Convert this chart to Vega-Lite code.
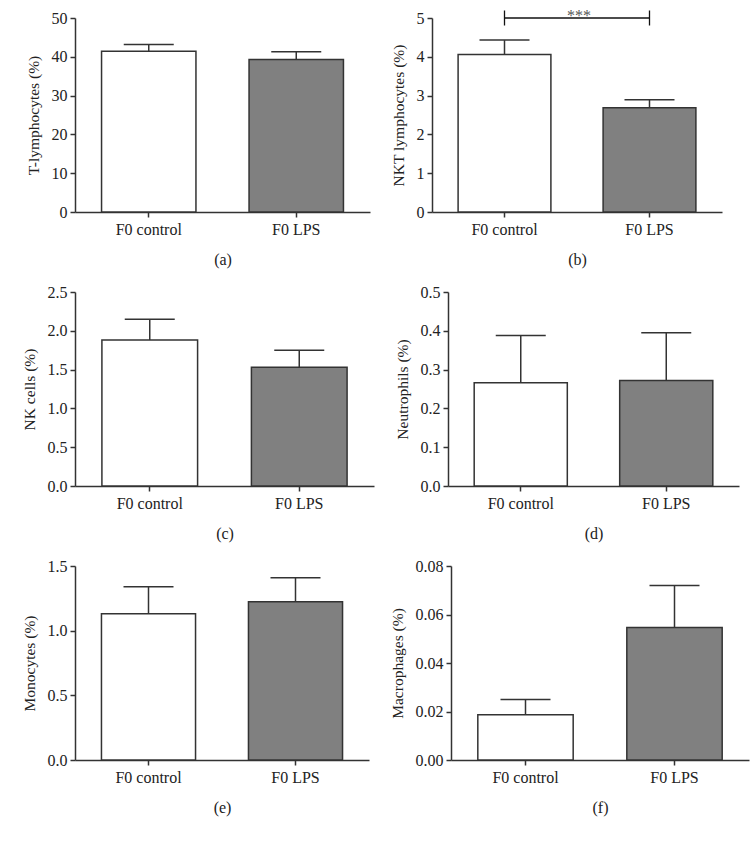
{
  "$schema": "https://vega.github.io/schema/vega-lite/v6.json",
  "background": "white",
  "padding": {"left": 22, "top": 8, "right": 5, "bottom": 5},
  "datasets": {
    "bars": [
      {"panel": "a", "group": "F0 control", "mean": 41.4, "upper": 43.2},
      {"panel": "a", "group": "F0 LPS", "mean": 39.3, "upper": 41.3},
      {"panel": "b", "group": "F0 control", "mean": 4.06, "upper": 4.43},
      {"panel": "b", "group": "F0 LPS", "mean": 2.69, "upper": 2.89},
      {"panel": "c", "group": "F0 control", "mean": 1.88, "upper": 2.15},
      {"panel": "c", "group": "F0 LPS", "mean": 1.53, "upper": 1.75},
      {"panel": "d", "group": "F0 control", "mean": 0.266, "upper": 0.388},
      {"panel": "d", "group": "F0 LPS", "mean": 0.272, "upper": 0.395},
      {"panel": "e", "group": "F0 control", "mean": 1.13, "upper": 1.34},
      {"panel": "e", "group": "F0 LPS", "mean": 1.223, "upper": 1.41},
      {"panel": "f", "group": "F0 control", "mean": 0.0187, "upper": 0.025},
      {"panel": "f", "group": "F0 LPS", "mean": 0.0546, "upper": 0.072}
    ],
    "sig": [
      {"group": "F0 control", "to": "F0 LPS", "level": 5.0, "label": "***"}
    ],
    "sigEnds": [
      {"group": "F0 control", "level": 5.0},
      {"group": "F0 LPS", "level": 5.0}
    ]
  },
  "vconcat": [
    {
      "hconcat": [
        {
          "width": 295, "height": 194,
          "data": {"name": "bars"},
          "transform": [{"filter": "datum.panel == 'a'"}],
          "encoding": {"x": {"field": "group", "type": "nominal", "title": "(a)", "scale": {"domain": ["F0 control", "F0 LPS"], "paddingInner": 0.36, "paddingOuter": 0.18}, "axis": {"labelAngle": 0, "labelFont": "Liberation Serif", "labelFontSize": 16, "labelColor": "#222", "titleFont": "Liberation Serif", "titleFontSize": 16, "titleFontWeight": "normal", "titleColor": "#222", "titlePadding": 14, "labelPadding": 4, "domainColor": "#333", "domainWidth": 1.5, "tickColor": "#333", "tickWidth": 1.5, "tickSize": 5, "grid": false}}},
          "layer": [
            {"mark": {"type": "bar", "stroke": "#333", "strokeWidth": 1.5},
             "encoding": {
               "y": {"field": "mean", "type": "quantitative", "title": "T-lymphocytes (%)", "scale": {"domain": [0, 50], "nice": false}, "axis": {"values": [0, 10, 20, 30, 40, 50], "labelFont": "Liberation Serif", "labelFontSize": 16, "labelColor": "#222", "titleFont": "Liberation Serif", "titleFontSize": 15.5, "titleFontWeight": "normal", "titleColor": "#222", "titlePadding": 10, "labelPadding": 3, "domainColor": "#333", "domainWidth": 1.5, "tickColor": "#333", "tickWidth": 1.5, "tickSize": 5, "grid": false}},
               "fill": {"field": "group", "type": "nominal", "scale": {"domain": ["F0 control", "F0 LPS"], "range": ["#ffffff", "#808080"]}, "legend": null}}},
            {"mark": {"type": "rule", "color": "#333", "strokeWidth": 1.5},
             "encoding": {"y": {"field": "mean", "type": "quantitative", "title": "T-lymphocytes (%)", "axis": {"values": [0, 10, 20, 30, 40, 50], "labelFont": "Liberation Serif", "labelFontSize": 16, "labelColor": "#222", "titleFont": "Liberation Serif", "titleFontSize": 15.5, "titleFontWeight": "normal", "titleColor": "#222", "titlePadding": 10, "labelPadding": 3, "domainColor": "#333", "domainWidth": 1.5, "tickColor": "#333", "tickWidth": 1.5, "tickSize": 5, "grid": false}}, "y2": {"field": "upper"}}},
            {"mark": {"type": "tick", "size": 50, "thickness": 1.5, "color": "#333", "opacity": 1},
             "encoding": {"y": {"field": "upper", "type": "quantitative", "title": "T-lymphocytes (%)", "axis": {"values": [0, 10, 20, 30, 40, 50], "labelFont": "Liberation Serif", "labelFontSize": 16, "labelColor": "#222", "titleFont": "Liberation Serif", "titleFontSize": 15.5, "titleFontWeight": "normal", "titleColor": "#222", "titlePadding": 10, "labelPadding": 3, "domainColor": "#333", "domainWidth": 1.5, "tickColor": "#333", "tickWidth": 1.5, "tickSize": 5, "grid": false}}}}
          ]
        },
        {
          "width": 290, "height": 194,
          "encoding": {"x": {"field": "group", "type": "nominal", "title": "(b)", "scale": {"domain": ["F0 control", "F0 LPS"], "paddingInner": 0.36, "paddingOuter": 0.18}, "axis": {"labelAngle": 0, "labelFont": "Liberation Serif", "labelFontSize": 16, "labelColor": "#222", "titleFont": "Liberation Serif", "titleFontSize": 16, "titleFontWeight": "normal", "titleColor": "#222", "titlePadding": 14, "labelPadding": 4, "domainColor": "#333", "domainWidth": 1.5, "tickColor": "#333", "tickWidth": 1.5, "tickSize": 5, "grid": false}}},
          "layer": [
            {"data": {"name": "bars"}, "transform": [{"filter": "datum.panel == 'b'"}],
             "mark": {"type": "bar", "stroke": "#333", "strokeWidth": 1.5},
             "encoding": {
               "y": {"field": "mean", "type": "quantitative", "title": "NKT lymphocytes (%)", "scale": {"domain": [0, 5], "nice": false}, "axis": {"values": [0, 1, 2, 3, 4, 5], "labelFont": "Liberation Serif", "labelFontSize": 16, "labelColor": "#222", "titleFont": "Liberation Serif", "titleFontSize": 15.5, "titleFontWeight": "normal", "titleColor": "#222", "titlePadding": 10, "labelPadding": 3, "domainColor": "#333", "domainWidth": 1.5, "tickColor": "#333", "tickWidth": 1.5, "tickSize": 5, "grid": false}},
               "fill": {"field": "group", "type": "nominal", "scale": {"domain": ["F0 control", "F0 LPS"], "range": ["#ffffff", "#808080"]}, "legend": null}}},
            {"data": {"name": "bars"}, "transform": [{"filter": "datum.panel == 'b'"}],
             "mark": {"type": "rule", "color": "#333", "strokeWidth": 1.5},
             "encoding": {"y": {"field": "mean", "type": "quantitative", "title": "NKT lymphocytes (%)", "axis": {"values": [0, 1, 2, 3, 4, 5], "labelFont": "Liberation Serif", "labelFontSize": 16, "labelColor": "#222", "titleFont": "Liberation Serif", "titleFontSize": 15.5, "titleFontWeight": "normal", "titleColor": "#222", "titlePadding": 10, "labelPadding": 3, "domainColor": "#333", "domainWidth": 1.5, "tickColor": "#333", "tickWidth": 1.5, "tickSize": 5, "grid": false}}, "y2": {"field": "upper"}}},
            {"data": {"name": "bars"}, "transform": [{"filter": "datum.panel == 'b'"}],
             "mark": {"type": "tick", "size": 50, "thickness": 1.5, "color": "#333", "opacity": 1},
             "encoding": {"y": {"field": "upper", "type": "quantitative", "title": "NKT lymphocytes (%)", "axis": {"values": [0, 1, 2, 3, 4, 5], "labelFont": "Liberation Serif", "labelFontSize": 16, "labelColor": "#222", "titleFont": "Liberation Serif", "titleFontSize": 15.5, "titleFontWeight": "normal", "titleColor": "#222", "titlePadding": 10, "labelPadding": 3, "domainColor": "#333", "domainWidth": 1.5, "tickColor": "#333", "tickWidth": 1.5, "tickSize": 5, "grid": false}}}},
            {"data": {"name": "sig"},
             "mark": {"type": "rule", "color": "#111", "strokeWidth": 1.3},
             "encoding": {"x2": {"field": "to"}, "y": {"field": "level", "type": "quantitative", "title": "NKT lymphocytes (%)", "axis": {"values": [0, 1, 2, 3, 4, 5], "labelFont": "Liberation Serif", "labelFontSize": 16, "labelColor": "#222", "titleFont": "Liberation Serif", "titleFontSize": 15.5, "titleFontWeight": "normal", "titleColor": "#222", "titlePadding": 10, "labelPadding": 3, "domainColor": "#333", "domainWidth": 1.5, "tickColor": "#333", "tickWidth": 1.5, "tickSize": 5, "grid": false}}}},
            {"data": {"name": "sigEnds"},
             "mark": {"type": "tick", "orient": "vertical", "size": 15, "thickness": 1.3, "color": "#111", "opacity": 1},
             "encoding": {"y": {"field": "level", "type": "quantitative", "title": "NKT lymphocytes (%)", "axis": {"values": [0, 1, 2, 3, 4, 5], "labelFont": "Liberation Serif", "labelFontSize": 16, "labelColor": "#222", "titleFont": "Liberation Serif", "titleFontSize": 15.5, "titleFontWeight": "normal", "titleColor": "#222", "titlePadding": 10, "labelPadding": 3, "domainColor": "#333", "domainWidth": 1.5, "tickColor": "#333", "tickWidth": 1.5, "tickSize": 5, "grid": false}}}},
            {"data": {"name": "sig"},
             "mark": {"type": "text", "fontSize": 16, "color": "#555", "baseline": "alphabetic", "dy": 3, "dx": -24, "font": "Liberation Serif"},
             "encoding": {"x": {"field": "to", "type": "nominal", "bandPosition": 0}, "y": {"field": "level", "type": "quantitative", "title": "NKT lymphocytes (%)", "axis": {"values": [0, 1, 2, 3, 4, 5], "labelFont": "Liberation Serif", "labelFontSize": 16, "labelColor": "#222", "titleFont": "Liberation Serif", "titleFontSize": 15.5, "titleFontWeight": "normal", "titleColor": "#222", "titlePadding": 10, "labelPadding": 3, "domainColor": "#333", "domainWidth": 1.5, "tickColor": "#333", "tickWidth": 1.5, "tickSize": 5, "grid": false}}, "text": {"field": "label"}}}
          ]
        }
      ],
      "spacing": 21
    },
    {
      "hconcat": [
        {
          "width": 299, "height": 194,
          "data": {"name": "bars"},
          "transform": [{"filter": "datum.panel == 'c'"}],
          "encoding": {"x": {"field": "group", "type": "nominal", "title": "(c)", "scale": {"domain": ["F0 control", "F0 LPS"], "paddingInner": 0.36, "paddingOuter": 0.18}, "axis": {"labelAngle": 0, "labelFont": "Liberation Serif", "labelFontSize": 16, "labelColor": "#222", "titleFont": "Liberation Serif", "titleFontSize": 16, "titleFontWeight": "normal", "titleColor": "#222", "titlePadding": 14, "labelPadding": 4, "domainColor": "#333", "domainWidth": 1.5, "tickColor": "#333", "tickWidth": 1.5, "tickSize": 5, "grid": false}}},
          "layer": [
            {"mark": {"type": "bar", "stroke": "#333", "strokeWidth": 1.5},
             "encoding": {
               "y": {"field": "mean", "type": "quantitative", "title": "NK cells (%)", "scale": {"domain": [0, 2.5], "nice": false}, "axis": {"values": [0, 0.5, 1, 1.5, 2, 2.5], "format": ".1f", "labelFont": "Liberation Serif", "labelFontSize": 16, "labelColor": "#222", "titleFont": "Liberation Serif", "titleFontSize": 15.5, "titleFontWeight": "normal", "titleColor": "#222", "titlePadding": 10, "labelPadding": 3, "domainColor": "#333", "domainWidth": 1.5, "tickColor": "#333", "tickWidth": 1.5, "tickSize": 5, "grid": false}},
               "fill": {"field": "group", "type": "nominal", "scale": {"domain": ["F0 control", "F0 LPS"], "range": ["#ffffff", "#808080"]}, "legend": null}}},
            {"mark": {"type": "rule", "color": "#333", "strokeWidth": 1.5},
             "encoding": {"y": {"field": "mean", "type": "quantitative", "title": "NK cells (%)", "axis": {"values": [0, 0.5, 1, 1.5, 2, 2.5], "format": ".1f", "labelFont": "Liberation Serif", "labelFontSize": 16, "labelColor": "#222", "titleFont": "Liberation Serif", "titleFontSize": 15.5, "titleFontWeight": "normal", "titleColor": "#222", "titlePadding": 10, "labelPadding": 3, "domainColor": "#333", "domainWidth": 1.5, "tickColor": "#333", "tickWidth": 1.5, "tickSize": 5, "grid": false}}, "y2": {"field": "upper"}}},
            {"mark": {"type": "tick", "size": 50, "thickness": 1.5, "color": "#333", "opacity": 1},
             "encoding": {"y": {"field": "upper", "type": "quantitative", "title": "NK cells (%)", "axis": {"values": [0, 0.5, 1, 1.5, 2, 2.5], "format": ".1f", "labelFont": "Liberation Serif", "labelFontSize": 16, "labelColor": "#222", "titleFont": "Liberation Serif", "titleFontSize": 15.5, "titleFontWeight": "normal", "titleColor": "#222", "titlePadding": 10, "labelPadding": 3, "domainColor": "#333", "domainWidth": 1.5, "tickColor": "#333", "tickWidth": 1.5, "tickSize": 5, "grid": false}}}}
          ]
        },
        {
          "width": 291, "height": 194,
          "data": {"name": "bars"},
          "transform": [{"filter": "datum.panel == 'd'"}],
          "encoding": {"x": {"field": "group", "type": "nominal", "title": "(d)", "scale": {"domain": ["F0 control", "F0 LPS"], "paddingInner": 0.36, "paddingOuter": 0.18}, "axis": {"labelAngle": 0, "labelFont": "Liberation Serif", "labelFontSize": 16, "labelColor": "#222", "titleFont": "Liberation Serif", "titleFontSize": 16, "titleFontWeight": "normal", "titleColor": "#222", "titlePadding": 14, "labelPadding": 4, "domainColor": "#333", "domainWidth": 1.5, "tickColor": "#333", "tickWidth": 1.5, "tickSize": 5, "grid": false}}},
          "layer": [
            {"mark": {"type": "bar", "stroke": "#333", "strokeWidth": 1.5},
             "encoding": {
               "y": {"field": "mean", "type": "quantitative", "title": "Neutrophils (%)", "scale": {"domain": [0, 0.5], "nice": false}, "axis": {"values": [0, 0.1, 0.2, 0.3, 0.4, 0.5], "format": ".1f", "labelFont": "Liberation Serif", "labelFontSize": 16, "labelColor": "#222", "titleFont": "Liberation Serif", "titleFontSize": 15.5, "titleFontWeight": "normal", "titleColor": "#222", "titlePadding": 10, "labelPadding": 3, "domainColor": "#333", "domainWidth": 1.5, "tickColor": "#333", "tickWidth": 1.5, "tickSize": 5, "grid": false}},
               "fill": {"field": "group", "type": "nominal", "scale": {"domain": ["F0 control", "F0 LPS"], "range": ["#ffffff", "#808080"]}, "legend": null}}},
            {"mark": {"type": "rule", "color": "#333", "strokeWidth": 1.5},
             "encoding": {"y": {"field": "mean", "type": "quantitative", "title": "Neutrophils (%)", "axis": {"values": [0, 0.1, 0.2, 0.3, 0.4, 0.5], "format": ".1f", "labelFont": "Liberation Serif", "labelFontSize": 16, "labelColor": "#222", "titleFont": "Liberation Serif", "titleFontSize": 15.5, "titleFontWeight": "normal", "titleColor": "#222", "titlePadding": 10, "labelPadding": 3, "domainColor": "#333", "domainWidth": 1.5, "tickColor": "#333", "tickWidth": 1.5, "tickSize": 5, "grid": false}}, "y2": {"field": "upper"}}},
            {"mark": {"type": "tick", "size": 50, "thickness": 1.5, "color": "#333", "opacity": 1},
             "encoding": {"y": {"field": "upper", "type": "quantitative", "title": "Neutrophils (%)", "axis": {"values": [0, 0.1, 0.2, 0.3, 0.4, 0.5], "format": ".1f", "labelFont": "Liberation Serif", "labelFontSize": 16, "labelColor": "#222", "titleFont": "Liberation Serif", "titleFontSize": 15.5, "titleFontWeight": "normal", "titleColor": "#222", "titlePadding": 10, "labelPadding": 3, "domainColor": "#333", "domainWidth": 1.5, "tickColor": "#333", "tickWidth": 1.5, "tickSize": 5, "grid": false}}}}
          ]
        }
      ],
      "spacing": 21
    },
    {
      "hconcat": [
        {
          "width": 294, "height": 194,
          "data": {"name": "bars"},
          "transform": [{"filter": "datum.panel == 'e'"}],
          "encoding": {"x": {"field": "group", "type": "nominal", "title": "(e)", "scale": {"domain": ["F0 control", "F0 LPS"], "paddingInner": 0.36, "paddingOuter": 0.18}, "axis": {"labelAngle": 0, "labelFont": "Liberation Serif", "labelFontSize": 16, "labelColor": "#222", "titleFont": "Liberation Serif", "titleFontSize": 16, "titleFontWeight": "normal", "titleColor": "#222", "titlePadding": 14, "labelPadding": 4, "domainColor": "#333", "domainWidth": 1.5, "tickColor": "#333", "tickWidth": 1.5, "tickSize": 5, "grid": false}}},
          "layer": [
            {"mark": {"type": "bar", "stroke": "#333", "strokeWidth": 1.5},
             "encoding": {
               "y": {"field": "mean", "type": "quantitative", "title": "Monocytes (%)", "scale": {"domain": [0, 1.5], "nice": false}, "axis": {"values": [0, 0.5, 1, 1.5], "format": ".1f", "labelFont": "Liberation Serif", "labelFontSize": 16, "labelColor": "#222", "titleFont": "Liberation Serif", "titleFontSize": 15.5, "titleFontWeight": "normal", "titleColor": "#222", "titlePadding": 10, "labelPadding": 3, "domainColor": "#333", "domainWidth": 1.5, "tickColor": "#333", "tickWidth": 1.5, "tickSize": 5, "grid": false}},
               "fill": {"field": "group", "type": "nominal", "scale": {"domain": ["F0 control", "F0 LPS"], "range": ["#ffffff", "#808080"]}, "legend": null}}},
            {"mark": {"type": "rule", "color": "#333", "strokeWidth": 1.5},
             "encoding": {"y": {"field": "mean", "type": "quantitative", "title": "Monocytes (%)", "axis": {"values": [0, 0.5, 1, 1.5], "format": ".1f", "labelFont": "Liberation Serif", "labelFontSize": 16, "labelColor": "#222", "titleFont": "Liberation Serif", "titleFontSize": 15.5, "titleFontWeight": "normal", "titleColor": "#222", "titlePadding": 10, "labelPadding": 3, "domainColor": "#333", "domainWidth": 1.5, "tickColor": "#333", "tickWidth": 1.5, "tickSize": 5, "grid": false}}, "y2": {"field": "upper"}}},
            {"mark": {"type": "tick", "size": 50, "thickness": 1.5, "color": "#333", "opacity": 1},
             "encoding": {"y": {"field": "upper", "type": "quantitative", "title": "Monocytes (%)", "axis": {"values": [0, 0.5, 1, 1.5], "format": ".1f", "labelFont": "Liberation Serif", "labelFontSize": 16, "labelColor": "#222", "titleFont": "Liberation Serif", "titleFontSize": 15.5, "titleFontWeight": "normal", "titleColor": "#222", "titlePadding": 10, "labelPadding": 3, "domainColor": "#333", "domainWidth": 1.5, "tickColor": "#333", "tickWidth": 1.5, "tickSize": 5, "grid": false}}}}
          ]
        },
        {
          "width": 298, "height": 194,
          "data": {"name": "bars"},
          "transform": [{"filter": "datum.panel == 'f'"}],
          "encoding": {"x": {"field": "group", "type": "nominal", "title": "(f)", "scale": {"domain": ["F0 control", "F0 LPS"], "paddingInner": 0.36, "paddingOuter": 0.18}, "axis": {"labelAngle": 0, "labelFont": "Liberation Serif", "labelFontSize": 16, "labelColor": "#222", "titleFont": "Liberation Serif", "titleFontSize": 16, "titleFontWeight": "normal", "titleColor": "#222", "titlePadding": 14, "labelPadding": 4, "domainColor": "#333", "domainWidth": 1.5, "tickColor": "#333", "tickWidth": 1.5, "tickSize": 5, "grid": false}}},
          "layer": [
            {"mark": {"type": "bar", "stroke": "#333", "strokeWidth": 1.5},
             "encoding": {
               "y": {"field": "mean", "type": "quantitative", "title": "Macrophages (%)", "scale": {"domain": [0, 0.08], "nice": false}, "axis": {"values": [0, 0.02, 0.04, 0.06, 0.08], "format": ".2f", "labelFont": "Liberation Serif", "labelFontSize": 16, "labelColor": "#222", "titleFont": "Liberation Serif", "titleFontSize": 15.5, "titleFontWeight": "normal", "titleColor": "#222", "titlePadding": 10, "labelPadding": 3, "domainColor": "#333", "domainWidth": 1.5, "tickColor": "#333", "tickWidth": 1.5, "tickSize": 5, "grid": false}},
               "fill": {"field": "group", "type": "nominal", "scale": {"domain": ["F0 control", "F0 LPS"], "range": ["#ffffff", "#808080"]}, "legend": null}}},
            {"mark": {"type": "rule", "color": "#333", "strokeWidth": 1.5},
             "encoding": {"y": {"field": "mean", "type": "quantitative", "title": "Macrophages (%)", "axis": {"values": [0, 0.02, 0.04, 0.06, 0.08], "format": ".2f", "labelFont": "Liberation Serif", "labelFontSize": 16, "labelColor": "#222", "titleFont": "Liberation Serif", "titleFontSize": 15.5, "titleFontWeight": "normal", "titleColor": "#222", "titlePadding": 10, "labelPadding": 3, "domainColor": "#333", "domainWidth": 1.5, "tickColor": "#333", "tickWidth": 1.5, "tickSize": 5, "grid": false}}, "y2": {"field": "upper"}}},
            {"mark": {"type": "tick", "size": 50, "thickness": 1.5, "color": "#333", "opacity": 1},
             "encoding": {"y": {"field": "upper", "type": "quantitative", "title": "Macrophages (%)", "axis": {"values": [0, 0.02, 0.04, 0.06, 0.08], "format": ".2f", "labelFont": "Liberation Serif", "labelFontSize": 16, "labelColor": "#222", "titleFont": "Liberation Serif", "titleFontSize": 15.5, "titleFontWeight": "normal", "titleColor": "#222", "titlePadding": 10, "labelPadding": 3, "domainColor": "#333", "domainWidth": 1.5, "tickColor": "#333", "tickWidth": 1.5, "tickSize": 5, "grid": false}}}}
          ]
        }
      ],
      "spacing": 21
    }
  ],
  "spacing": 17,
  "config": {
    "view": {"stroke": null},
    "font": "Liberation Serif"
  }
}
